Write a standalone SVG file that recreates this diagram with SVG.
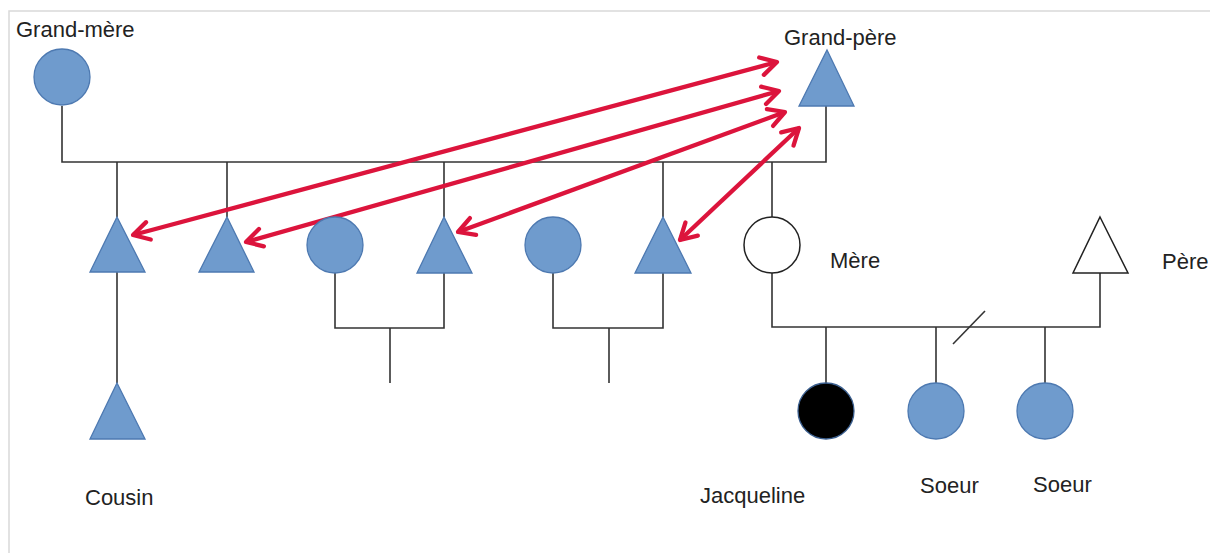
<svg xmlns="http://www.w3.org/2000/svg" width="1210" height="553" viewBox="0 0 1210 553">
<style>
.bg{fill:#fff}
.frame{stroke:#d9d9d9;stroke-width:1.5;fill:none}
.ln{stroke:#333;stroke-width:1.6;fill:none}
.bl{fill:#6f9bcd;stroke:#4d79b1;stroke-width:1.3}
.wh{fill:#fff;stroke:#222;stroke-width:1.5}
.bk{fill:#000;stroke:#3b5f8f;stroke-width:1.3}
.t{font-family:"Liberation Sans",Arial,sans-serif;font-size:22px;fill:#222}
.ar{stroke:#dc143c;stroke-width:4.3;fill:none;marker-start:url(#ah);marker-end:url(#ah)}
</style>
<defs>
<marker id="ah" markerUnits="userSpaceOnUse" markerWidth="30" markerHeight="30" viewBox="-20 -15 30 30" refX="0" refY="0" orient="auto-start-reverse">
<path d="M-16,-9 L0,0 L-16,9" fill="none" stroke="#dc143c" stroke-width="4.3" stroke-linecap="round" stroke-linejoin="round"/>
</marker>
</defs>
<rect class="bg" x="0" y="0" width="1210" height="553"/>
<path class="frame" d="M9,553 V11 H1210"/>
<g id="connectors">
<path class="ln" d="M62,106 V162 H826 V106"/>
<path class="ln" d="M117,162 V217"/>
<path class="ln" d="M227,162 V217"/>
<path class="ln" d="M444,162 V217"/>
<path class="ln" d="M663,162 V217"/>
<path class="ln" d="M772,162 V217"/>
<path class="ln" d="M117,272 V383"/>
<path class="ln" d="M335,273 V328 H444 V273"/>
<path class="ln" d="M390,328 V383"/>
<path class="ln" d="M553,273 V328 H663 V273"/>
<path class="ln" d="M609,328 V383"/>
<path class="ln" d="M772,273 V327 H1100 V273"/>
<path class="ln" d="M826,327 V383"/>
<path class="ln" d="M936,327 V383"/>
<path class="ln" d="M1045,327 V383"/>
<path class="ln" d="M953,344 L985,311"/>
<path class="ar" d="M777,62 L133,235"/>
<path class="ar" d="M779,91 L246,242"/>
<path class="ar" d="M785,112 L458,232"/>
<path class="ar" d="M799,128 L680,240"/>
</g>
<g id="grand-mere"><circle class="bl" cx="62" cy="77" r="28"/><text class="t" x="16" y="37">Grand-mère</text></g>
<g id="grand-pere"><polygon class="bl" points="827,50 854,106 799,106"/><text class="t" x="784" y="45">Grand-père</text></g>
<g id="oncle1"><polygon class="bl" points="117,217 145,272 90,272"/></g>
<g id="oncle2"><polygon class="bl" points="227,217 254,272 199,272"/></g>
<g id="tante1"><circle class="bl" cx="335" cy="245" r="28"/></g>
<g id="oncle3"><polygon class="bl" points="444,217 472,273 417,273"/></g>
<g id="tante2"><circle class="bl" cx="553" cy="245" r="28"/></g>
<g id="oncle4"><polygon class="bl" points="663,217 691,273 635,273"/></g>
<g id="mere"><circle class="wh" cx="772" cy="245" r="28"/><text class="t" x="830" y="268">Mère</text></g>
<g id="pere"><polygon class="wh" points="1100,217 1128,273 1073,273"/><text class="t" x="1162" y="269">Père</text></g>
<g id="cousin"><polygon class="bl" points="117,383 145,439 90,439"/><text class="t" x="85" y="505">Cousin</text></g>
<g id="jacqueline"><circle class="bk" cx="826" cy="411" r="28"/><text class="t" x="700" y="503">Jacqueline</text></g>
<g id="soeur1"><circle class="bl" cx="936" cy="411" r="28"/><text class="t" x="920" y="493">Soeur</text></g>
<g id="soeur2"><circle class="bl" cx="1045" cy="411" r="28"/><text class="t" x="1033" y="492">Soeur</text></g>
</svg>
